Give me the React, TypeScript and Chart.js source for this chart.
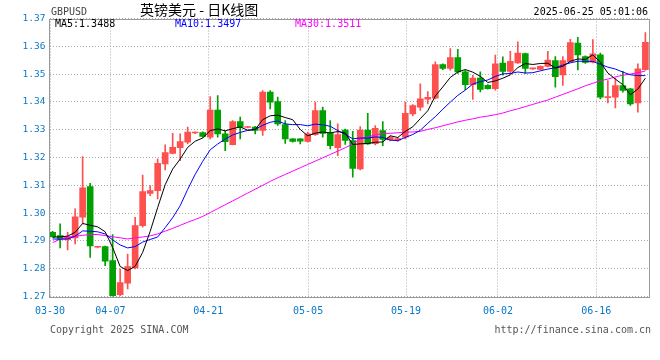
import React, { useEffect, useRef } from 'react';
import { Chart, registerables } from 'chart.js';

Chart.register(...registerables);

const symbol = 'GBPUSD';
const titleText = '英镑美元 - 日K线图';
const timestamp = '2025-06-25 05:01:06';
const copyrightText = 'Copyright 2025 SINA.COM';
const urlText = 'http://finance.sina.com.cn';

const legendLabels = ['MA5:1.3488', 'MA10:1.3497', 'MA30:1.3511'];

const dateLabels = ['03-30', '04-07', '04-21', '05-05', '05-19', '06-02', '06-16'];
// candle-index position of each date label
const dateTickPos = [-0.35, 7.7, 20.75, 34.05, 47.1, 59.35, 72.45];

const yTicks = [1.27, 1.28, 1.29, 1.3, 1.31, 1.32, 1.33, 1.34, 1.35, 1.36, 1.37];

const opens = [
  1.2931, 1.2919, 1.2904, 1.2911, 1.2985, 1.3095, 1.2877, 1.288, 1.2829, 1.2707,
  1.2748, 1.2803, 1.2955, 1.3071, 1.3081, 1.3177, 1.3215, 1.3235, 1.3255, 1.3288,
  1.329, 1.3273, 1.3371, 1.3285, 1.3246, 1.3329, 1.3308, 1.3309, 1.3297, 1.3435,
  1.3401, 1.3318, 1.3267, 1.3267, 1.3258, 1.3282, 1.3369, 1.3287, 1.3235, 1.3299,
  1.3261, 1.3159, 1.3299, 1.325, 1.3297, 1.3263, 1.3262, 1.3273, 1.3357, 1.3381,
  1.341, 1.3413, 1.3534, 1.352, 1.3559, 1.3508, 1.3462, 1.3486, 1.346, 1.3448,
  1.354, 1.351, 1.354, 1.3574, 1.3519, 1.3517, 1.3528, 1.3549, 1.3497, 1.3545,
  1.3612, 1.3563, 1.3543, 1.3569, 1.3415, 1.3417, 1.3459, 1.3447, 1.3396, 1.3516,
];
const highs = [
  1.2934, 1.2961, 1.2931, 1.3015, 1.3203, 1.3107, 1.2879, 1.2881, 1.2923, 1.2799,
  1.2853, 1.2985, 1.3137, 1.3099, 1.3195, 1.3246, 1.3287, 1.3285, 1.3309, 1.3292,
  1.3292, 1.3419, 1.3423, 1.3297, 1.3333, 1.3345, 1.3311, 1.3312, 1.3441, 1.3441,
  1.3417, 1.3333, 1.3268, 1.3268, 1.3291, 1.3399, 1.3381, 1.3333, 1.3321, 1.3302,
  1.3294, 1.3311, 1.3359, 1.3315, 1.3329, 1.3277, 1.3272, 1.3399, 1.339, 1.3465,
  1.3437, 1.3544, 1.3537, 1.3592, 1.3589, 1.3514, 1.3496, 1.3508, 1.3462, 1.3568,
  1.3562, 1.3582, 1.3616, 1.3576, 1.3522, 1.353, 1.3582, 1.3563, 1.3563, 1.3625,
  1.3632, 1.3566, 1.3624, 1.3576, 1.3477, 1.3486, 1.351, 1.3449, 1.3537, 1.3649,
];
const lows = [
  1.2913, 1.2875, 1.2868, 1.2889, 1.2961, 1.2841, 1.2875, 1.2811, 1.2691, 1.2703,
  1.2727, 1.2799, 1.2949, 1.3063, 1.3051, 1.3155, 1.3213, 1.3189, 1.3249, 1.3286,
  1.3272, 1.3267, 1.3273, 1.3225, 1.3245, 1.3267, 1.3306, 1.3285, 1.3279, 1.3375,
  1.3315, 1.3251, 1.3255, 1.3249, 1.3255, 1.3279, 1.3273, 1.3231, 1.3207, 1.3247,
  1.3129, 1.3155, 1.3247, 1.3245, 1.3243, 1.326, 1.3258, 1.3267, 1.335, 1.3369,
  1.3393, 1.3411, 1.3516, 1.3514, 1.3502, 1.3444, 1.3409, 1.3436, 1.3446, 1.3442,
  1.3496, 1.3502, 1.3538, 1.3502, 1.3517, 1.3515, 1.3526, 1.3453, 1.3459, 1.3543,
  1.3515, 1.3538, 1.354, 1.3411, 1.3396, 1.3378, 1.3435, 1.3387, 1.3363, 1.3514,
];
const closes = [
  1.2915, 1.2906, 1.2915, 1.2987, 1.3091, 1.2882, 1.2878, 1.2827, 1.2703, 1.275,
  1.2808, 1.2955, 1.3077, 1.3081, 1.3179, 1.3218, 1.3237, 1.3257, 1.3291, 1.329,
  1.3276, 1.3371, 1.3285, 1.3257, 1.3329, 1.3309, 1.331, 1.3297, 1.3435, 1.3399,
  1.3321, 1.3267, 1.3258, 1.3259, 1.3285, 1.3369, 1.3287, 1.3243, 1.3282, 1.3261,
  1.3161, 1.3299, 1.3249, 1.3305, 1.3265, 1.3273, 1.3268, 1.3359, 1.3387, 1.3411,
  1.3416, 1.3534, 1.352, 1.3559, 1.3508, 1.3462, 1.3486, 1.3445, 1.3448, 1.3537,
  1.351, 1.3546, 1.3576, 1.352, 1.3521, 1.3528, 1.355, 1.3491, 1.3549, 1.3613,
  1.3569, 1.3542, 1.3573, 1.3417, 1.3419, 1.3459, 1.3441, 1.3393, 1.3519, 1.3614,
];
// closes of the days just before the visible window (estimated from the MA start)
const priorCloses = [1.2915, 1.2905, 1.289, 1.29, 1.2895, 1.2896, 1.2905, 1.2917, 1.2932];

const ma30 = [
  1.2894, 1.2906, 1.2913, 1.2917, 1.292, 1.2923, 1.2923, 1.2919, 1.2915, 1.2911,
  1.2907, 1.2911, 1.2914, 1.2918, 1.2925, 1.2935, 1.2945, 1.2956, 1.2967, 1.2977,
  1.2988, 1.3002, 1.3016, 1.303, 1.3044, 1.3058, 1.3072, 1.3086, 1.31, 1.3114,
  1.3127, 1.3139, 1.3151, 1.3163, 1.3175, 1.3187, 1.3199, 1.3211, 1.3223, 1.3235,
  1.3249, 1.3267, 1.3274, 1.3281, 1.3286, 1.3287, 1.3289, 1.3291, 1.3292, 1.3294,
  1.3301, 1.3307, 1.3314, 1.3321, 1.3328, 1.3334, 1.3339, 1.3345, 1.3349, 1.3354,
  1.336, 1.3368, 1.3375, 1.3383, 1.3391, 1.3399, 1.3407, 1.3417, 1.3427, 1.3437,
  1.3447, 1.3458, 1.3467, 1.3476, 1.3482, 1.349, 1.3496, 1.35, 1.3505, 1.3511,
];

function movingAverage(period: number): number[] {
  const all = [...priorCloses, ...closes];
  const off = priorCloses.length;
  return closes.map((_, i) => {
    let s = 0;
    for (let k = 0; k < period; k++) s += all[off + i - k];
    return s / period;
  });
}

const RED = '#ff5050';
const GREEN = '#00a000';
const AXIS_BLUE = '#0a78c8';
const MONO = '"DejaVu Sans Mono", monospace';
const LEGEND_COLORS = ['#000000', '#0000ff', '#ff00ff'];

const textPlugin = {
  id: 'sinaText',
  afterDraw(chart: any) {
    const { ctx, chartArea: a } = chart;
    ctx.save();
    ctx.strokeStyle = '#999999';
    ctx.lineWidth = 1;
    ctx.setLineDash([]);
    ctx.strokeRect(Math.round(a.left) - 0.5, Math.round(a.top) + 0.5, Math.round(a.right - a.left), Math.round(a.bottom - a.top));

    ctx.textBaseline = 'middle';
    ctx.font = `10px ${MONO}`;
    ctx.fillStyle = '#444444';
    ctx.textAlign = 'left';
    ctx.fillText(symbol, a.left + 1, 12);

    ctx.font = '14px "Noto Sans CJK SC", sans-serif';
    ctx.fillStyle = '#000000';
    ctx.fillText(titleText, 140, 10);

    ctx.font = `10px ${MONO}`;
    ctx.textAlign = 'right';
    ctx.fillText(timestamp, 648, 12);

    ctx.textAlign = 'left';
    const legendX = [55, 175, 295];
    legendLabels.forEach((t, i) => {
      ctx.fillStyle = LEGEND_COLORS[i];
      ctx.fillText(t, legendX[i], 24.5);
    });

    ctx.fillStyle = '#555555';
    ctx.fillText(copyrightText, 50, 330);
    ctx.textAlign = 'right';
    ctx.fillText(urlText, 651, 330);
    ctx.restore();
  },
};

export default function App() {
  const ref = useRef<HTMLCanvasElement | null>(null);

  useEffect(() => {
    document.body.style.margin = '0';
    const canvas = ref.current;
    if (!canvas) return;
    const ma5 = movingAverage(5);
    const ma10 = movingAverage(10);
    const colors = closes.map((c, i) => (c >= opens[i] ? RED : GREEN));

    const lineDs = (label: string, vals: number[], color: string) => ({
      type: 'line' as const,
      label,
      data: vals.map((v, i) => ({ x: i, y: v })),
      borderColor: color,
      borderWidth: 1,
      pointRadius: 0,
      tension: 0,
      order: 0,
    });

    const chart = new Chart(canvas, {
      type: 'bar',
      data: {
        datasets: [
          lineDs('MA5', ma5, '#000000'),
          lineDs('MA10', ma10, '#0000ff'),
          lineDs('MA30', ma30, '#ff00ff'),
          {
            type: 'bar',
            label: 'body',
            data: closes.map((c, i) => ({ x: i, y: [opens[i], c] })) as any,
            backgroundColor: colors,
            borderWidth: 0,
            barThickness: 6,
            minBarLength: 1,
            grouped: false,
            order: 2,
          },
          {
            type: 'bar',
            label: 'wick',
            data: lows.map((l, i) => ({ x: i, y: [l, highs[i]] })) as any,
            backgroundColor: colors,
            borderWidth: 0,
            barThickness: 1,
            grouped: false,
            order: 3,
          },
        ] as any,
      },
      options: {
        animation: false,
        responsive: false,
        devicePixelRatio: 1,
        layout: { padding: { left: 0, right: 10.5, top: 18.5, bottom: 23.5 } },
        plugins: { legend: { display: false }, tooltip: { enabled: false }, title: { display: false } },
        scales: {
          x: {
            type: 'linear',
            min: -0.35,
            max: 79.55,
            offset: false,
            grid: { color: '#aaaaaa', drawTicks: false, offset: false, lineWidth: 1 },
            border: { display: false, dash: [1, 2] },
            afterBuildTicks: (s: any) => {
              s.ticks = dateTickPos.map((v) => ({ value: v }));
            },
            afterFit: (s: any) => {
              s.height = 40;
            },
            ticks: {
              autoSkip: false,
              maxRotation: 0,
              padding: 9,
              color: AXIS_BLUE,
              font: { family: MONO, size: 10 },
              callback: (_v: any, i: number) => dateLabels[i],
            },
          },
          y: {
            type: 'linear',
            min: 1.27,
            max: 1.37,
            beginAtZero: false,
            grid: { color: '#aaaaaa', drawTicks: false, lineWidth: 1 },
            border: { display: false, dash: [1, 2] },
            afterBuildTicks: (s: any) => {
              s.ticks = yTicks.map((v) => ({ value: v }));
            },
            afterFit: (s: any) => {
              s.width = 50;
            },
            ticks: {
              padding: 4.5,
              color: AXIS_BLUE,
              font: { family: MONO, size: 9.5 },
              callback: (v: any) => Number(v).toFixed(2),
            },
          },
        },
      } as any,
      plugins: [textPlugin],
    });
    return () => chart.destroy();
  }, []);

  return (
    <div style={{ width: 660, height: 360 }}>
      <canvas ref={ref} width={660} height={360} style={{ display: 'block', width: 660, height: 360 }} />
    </div>
  );
}
